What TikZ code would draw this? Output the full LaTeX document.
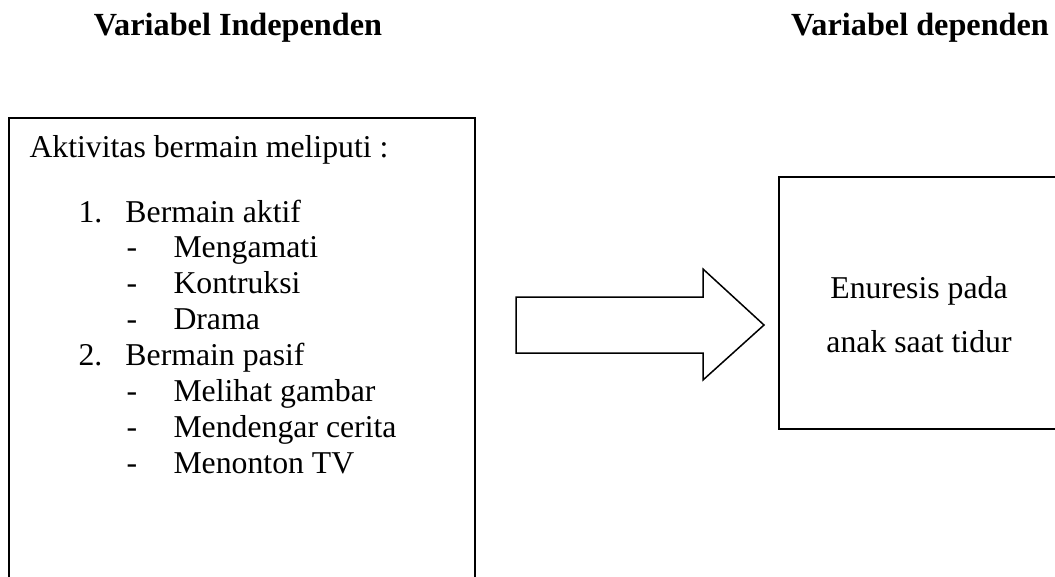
\documentclass[tikz,border=0pt]{standalone}
\usepackage{fontspec}
\setmainfont{Liberation Serif}
\usetikzlibrary{positioning}

\begin{document}
\begin{tikzpicture}[x=0.4pt,y=-0.4pt,
	teks/.style={anchor=base west, inner sep=0pt, font=\fontsize{12.7}{15}\selectfont},
	judul/.style={anchor=base, inner sep=0pt, font=\fontsize{12.9}{15}\selectfont\bfseries},
	kotak/.style={draw, line width=0.8pt, anchor=north west, inner sep=0pt}]
		\clip (0,0) rectangle (1055,576);
		\node[judul] (judulbebas) at (238,35) {Variabel Independen};
		\node[judul] (judulterikat) at (920,35) {Variabel dependen};
		% kotak variabel independen
		\node[kotak, minimum width=186.4pt, minimum height=200pt] (bebas) at (8,117) {};
		\node[teks] (aktivitas) at (29,157) {Aktivitas bermain meliputi :};
		\node[teks] (no1) at (78,222) {1.};
		\node[teks] (aktif) at (125,222) {Bermain aktif};
		\node[teks] (s1) at (126,257) {-};
		\node[teks] (mengamati) at (173,257) {Mengamati};
		\node[teks] (s2) at (126,293) {-};
		\node[teks] (kontruksi) at (173,293) {Kontruksi};
		\node[teks] (s3) at (126,329) {-};
		\node[teks] (drama) at (173,329) {Drama};
		\node[teks] (no2) at (78,365) {2.};
		\node[teks] (pasif) at (125,365) {Bermain pasif};
		\node[teks] (s4) at (126,401) {-};
		\node[teks] (melihat) at (173,401) {Melihat gambar};
		\node[teks] (s5) at (126,437) {-};
		\node[teks] (mendengar) at (173,437) {Mendengar cerita};
		\node[teks] (s6) at (126,473) {-};
		\node[teks] (menonton) at (173,473) {Menonton TV};
		% panah
		\draw[line width=0.6pt, line join=miter] (516,297) -- (703,297) -- (703,269) -- (764,325) -- (703,380) -- (703,353) -- (516,353) -- cycle;
		% kotak variabel dependen
		\node[kotak, minimum width=120pt, minimum height=100.8pt] (terikat) at (778,176) {};
		\node[teks, anchor=base] (enuresis) at (919,298) {Enuresis pada};
		\node[teks, anchor=base] (tidur) at (919,352) {anak saat tidur};
	\end{tikzpicture}
\end{document}
